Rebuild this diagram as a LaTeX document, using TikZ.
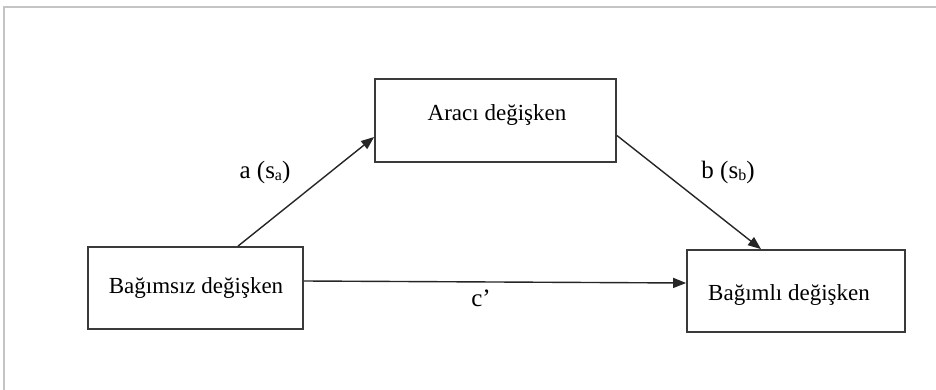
\documentclass[tikz,border=0pt]{standalone}
\usepackage{fontspec}
\setmainfont{Liberation Serif}
\usetikzlibrary{arrows.meta,calc}
\definecolor{framegray}{HTML}{C4C4C4}
\definecolor{boxline}{HTML}{3A3A3A}
\tikzset{
  varbox/.style={draw=boxline,line width=1.8pt,fill=white,inner sep=0pt},
  vartext/.style={inner sep=0pt,font=\fontsize{23}{27}\selectfont},
  pathlabel/.style={inner sep=0pt,font=\fontsize{25}{29}\selectfont},
  arr/.style={draw=black!85,line width=1.4pt,-{Triangle[length=13pt,width=10pt]}},
}
\newcommand{\sbx}[1]{\raisebox{-2pt}{\fontsize{16}{16}\selectfont #1}}
\begin{document}
\begin{tikzpicture}[x=1pt,y=-1pt]
\useasboundingbox (0,0) rectangle (936,390);
\fill[white] (0,0) rectangle (936,390);
\draw[framegray,line width=2pt] (4,390) -- (4,7) -- (936,7);
% boxes
\node[varbox,minimum width=241pt,minimum height=83pt] (m) at (495.5,120.5) {};
\node[varbox,minimum width=215pt,minimum height=82pt] (x) at (195.5,288) {};
\node[varbox,minimum width=218pt,minimum height=82pt] (y) at (796,291) {};
% texts
\node[vartext] (mt) at (497,115) {Aracı değişken};
\node[vartext] (xt) at (196,288) {Bağımsız değişken};
\node[vartext] (yt) at (789,295) {Bağımlı değişken};
% arrows
\draw[arr] ($(x.north)+(42.5,0)$) -- ($(m.west)+(0,16.5)$);
\draw[arr] ($(m.east)+(0,15)$) -- ($(y.north)+(-35,0)$);
\draw[arr] ($(x.east)+(0,-7)$) -- ($(y.west)+(0,-8)$);
% labels
\node[pathlabel] (la) at (265,172) {a (s\sbx{a})};
\node[pathlabel] (lb) at (728,172) {b (s\sbx{b})};
\node[pathlabel] (lc) at (481,298) {c’};
\end{tikzpicture}
\end{document}
